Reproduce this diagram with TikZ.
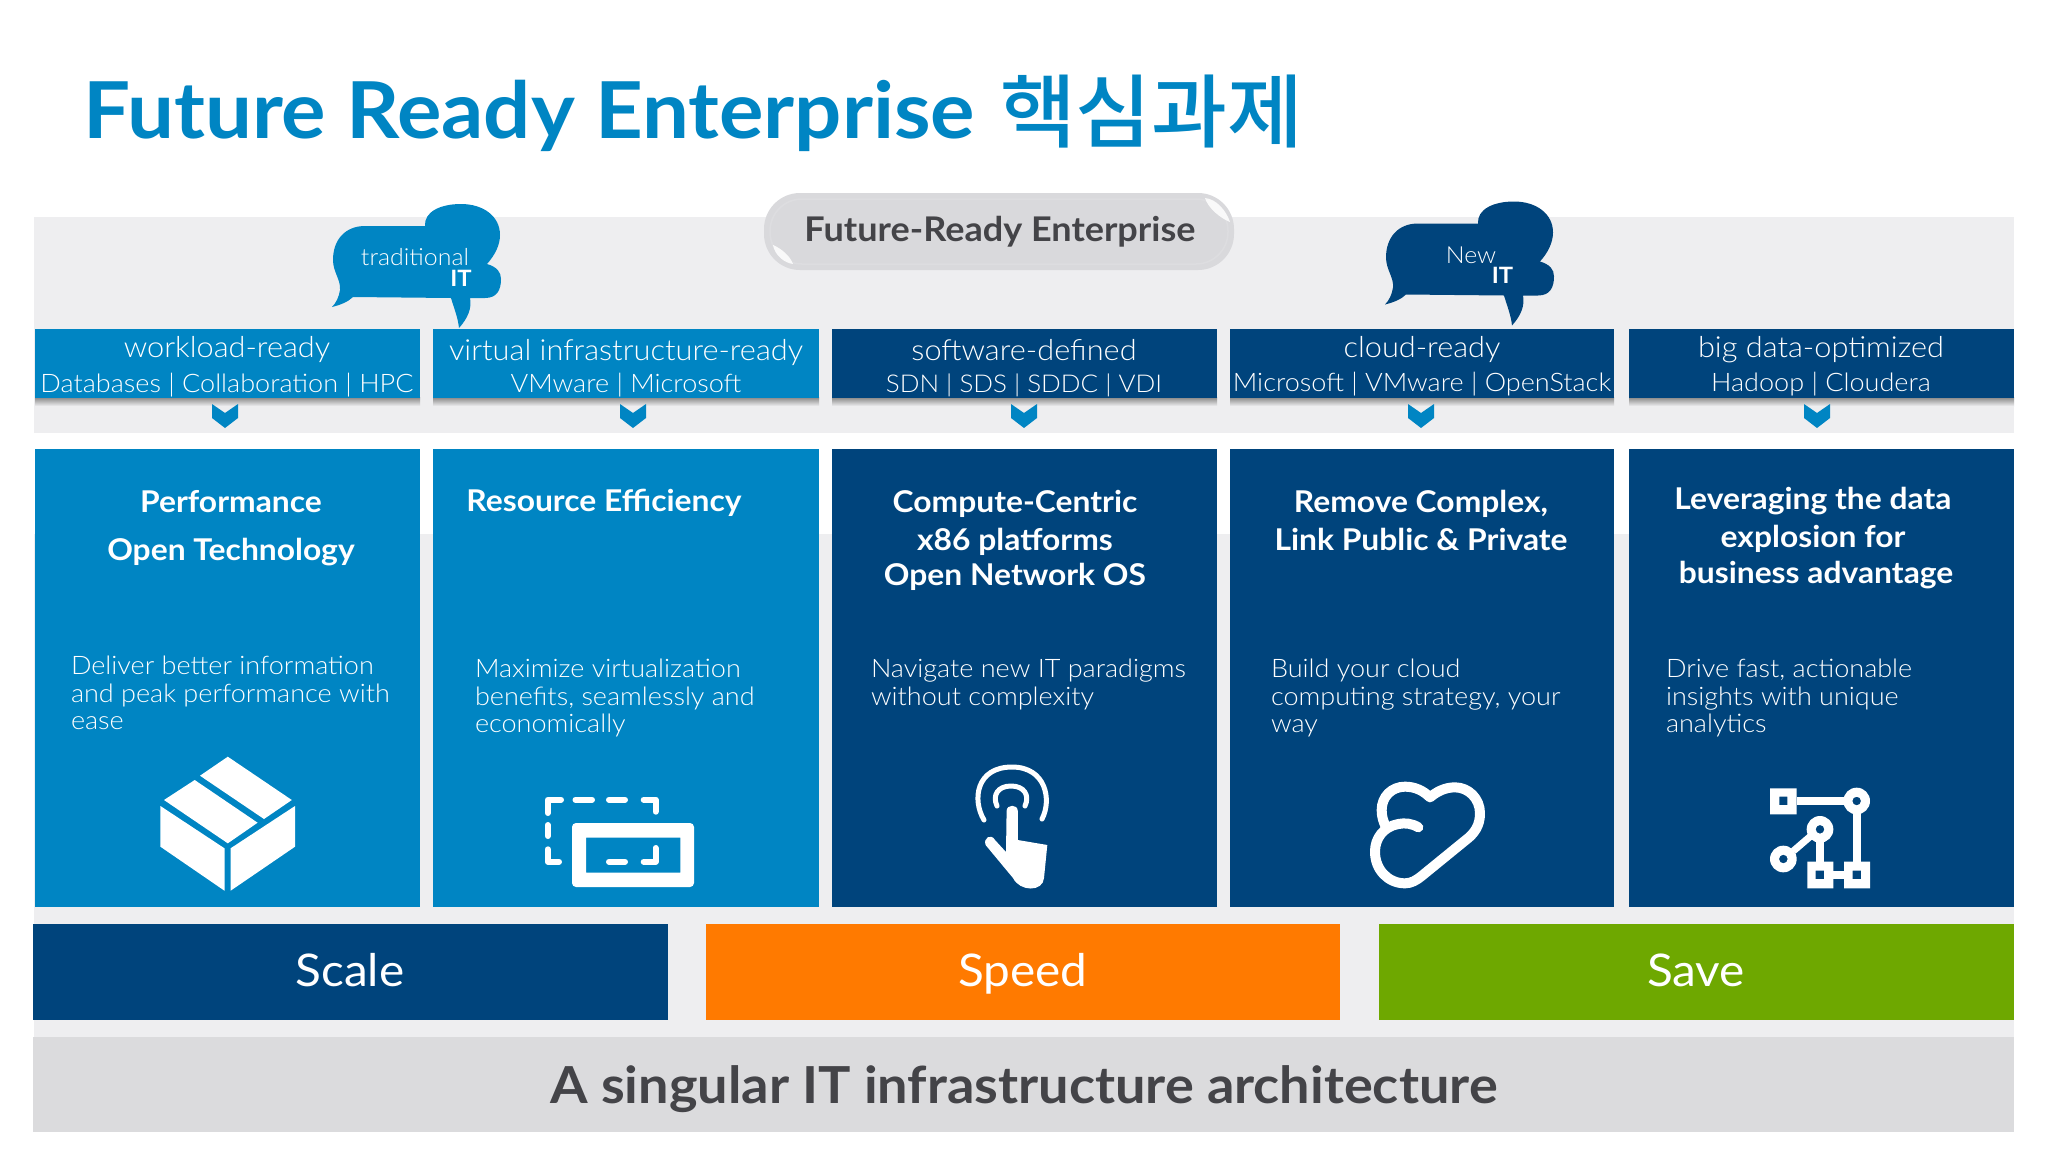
\documentclass[tikz,border=0pt]{standalone}
\usepackage{fontspec}
\setmainfont{Lato}[FakeStretch=1.06]
\newfontfamily\lightf{Lato Light}[FakeStretch=1.06]
\newfontfamily\krf{Noto Sans CJK KR Medium}[FakeStretch=1.03]
\usetikzlibrary{calc}
\definecolor{dellblue}{HTML}{0085C3}
\definecolor{dellnavy}{HTML}{00447C}
\definecolor{bandgray}{HTML}{EEEEF0}
\definecolor{bargray}{HTML}{DBDBDD}
\definecolor{pillgray}{HTML}{D9D9DC}
\definecolor{inkgray}{HTML}{444448}
\definecolor{dellorange}{HTML}{FF7A00}
\definecolor{dellgreen}{HTML}{6EA800}
\newcommand{\fsz}[1]{\fontsize{#1}{#1}\selectfont}
\tikzset{
  txt/.style={inner sep=0pt,outer sep=0pt,anchor=base},
  txtl/.style={inner sep=0pt,outer sep=0pt,anchor=base west},
  headtitle/.style={txt,text=white,font=\lightf\fsz{29}},
  headsub/.style={txt,text=white,font=\lightf\fsz{25.5}},
  boxtitle/.style={txt,text=white,font=\bfseries\fsz{30}},
  boxbody/.style={txtl,text=white,font=\lightf\fsz{25.5}},
  bartext/.style={txt,text=white,font=\fsz{45}},
  bubtext/.style={txt,text=white,font=\lightf\fsz{23.5}},
  bubit/.style={txt,text=white,font=\bfseries\fsz{22.5}},
  icon/.style={fill=white,draw=none},
  iconline/.style={draw=white,line cap=round,line join=round},
}
\newcommand{\bubblepath}{(332,307) .. controls (340,305) and (348,302) .. (353,297) -- (451,298) .. controls (454,308) and (458,318) .. (459,328) .. controls (468,318) and (472,308) .. (470,298) -- (485,298) .. controls (497,298) and (501,290) .. (501,279) .. controls (501,272) and (497,267) .. (487,264) .. controls (495,255) and (500,245) .. (500,235) .. controls (500,216) and (483,204) .. (461,204) .. controls (440,204) and (424,212) .. (425,226) -- (365,226) .. controls (345,226) and (333,240) .. (333,260) .. controls (333,272) and (341,280) .. (340,290) .. controls (339,297) and (336,303) .. (332,307) -- cycle}
\begin{document}
\begin{tikzpicture}[x=1pt,y=-1pt]
\useasboundingbox (0,0) rectangle (2048,1152);
% bands
\fill[white] (0,0) rectangle (2048,1152);
\fill[bandgray] (34,217) rectangle (2014,433);
\fill[bandgray] (34,534) rectangle (2014,1040);
\fill[bargray] (33,1037) rectangle (2014,1132);
% title
\node[txtl,text=dellblue,font=\bfseries\fsz{78.5}] (title) at (83,138) {Future Ready Enterprise};
\node[txtl,text=dellblue,font=\krf\fsz{80}] (titlekr) at (1000,141) {핵심과제};
% pill
\fill[pillgray,rounded corners=36pt] (764,193) rectangle (1234,270);
\draw[white,opacity=.12,line width=1.5pt,rounded corners=32pt] (770,199) rectangle (1228,264);
\fill[white,opacity=.85] (773,245) .. controls (782,249) and (790,256) .. (793,264) .. controls (785,263) and (775,256) .. (773,245) -- cycle;
\fill[white,opacity=.85] (1205,198) .. controls (1216,199) and (1226,210) .. (1230,222) .. controls (1220,218) and (1208,208) .. (1205,198) -- cycle;
\node[txt,text=inkgray,font=\bfseries\fsz{34}] (pilltxt) at (1000,241) {Future-Ready Enterprise};
% header shadows and boxes
\foreach \xa/\xb in {35/420,433/819,832/1217,1230/1614,1629/2014}{
  \shade[top color=black!48,bottom color=bandgray] (\xa,397) rectangle (\xb,406);
}
\foreach \xa/\xb/\c in {35/420/dellblue,433/819/dellblue,832/1217/dellnavy,1230/1614/dellnavy,1629/2014/dellnavy}{
  \fill[\c] (\xa,329) rectangle (\xb,398);
  \fill[\c] (\xa,449) rectangle (\xb,907);
}
% bubbles
\fill[dellblue] \bubblepath;
\begin{scope}[shift={(1053,-2.5)}]
\fill[dellnavy] \bubblepath;
\end{scope}
\node[bubtext] (trad) at (415,265.5) {traditional};
\node[bubit] (trad2) at (461,286) {IT};
\node[bubtext] (new) at (1471,263.5) {New};
\node[bubit] (new2) at (1502.5,283.5) {IT};
% header texts
\node[headtitle] (h1) at (227,357) {workload-ready};
\node[headsub] (s1) at (227,392) {Databases | Collaboration | HPC};
\node[headtitle] (h2) at (626,360) {virtual infrastructure-ready};
\node[headsub] (s2) at (626,392) {VMware | Microsoft};
\node[headtitle] (h3) at (1024,360) {software-defined};
\node[headsub,font=\lightf\fsz{24.5}] (s3) at (1024,392) {SDN | SDS | SDDC | VDI};
\node[headtitle] (h4) at (1422,357) {cloud-ready};
\node[headsub] (s4) at (1422,391) {Microsoft | VMware | OpenStack};
\node[headtitle] (h5) at (1821,357) {big data-optimized};
\node[headsub] (s5) at (1821,391) {Hadoop | Cloudera};
% chevrons
\foreach \cx/\c in {225/dellblue,633/dellblue,1024/dellblue,1421/dellblue,1817/dellblue}{
  \fill[\c] (\cx-13,404) -- (\cx,413) -- (\cx+13,404) -- (\cx+13,418) -- (\cx,428) -- (\cx-13,418) -- cycle;
}
% box titles
\node[boxtitle] (t1a) at (231,512) {Performance};
\node[boxtitle] (t1b) at (231,560) {Open Technology};
\node[boxtitle] (t2a) at (604,511) {Resource Efficiency};
\node[boxtitle] (t3a) at (1015,512) {Compute-Centric};
\node[boxtitle] (t3b) at (1015,550) {x86 platforms};
\node[boxtitle] (t3c) at (1015,585) {Open Network OS};
\node[boxtitle] (t4a) at (1421,512) {Remove Complex,};
\node[boxtitle] (t4b) at (1421,550) {Link Public \& Private};
\node[boxtitle] (t5a) at (1813,509) {Leveraging the data};
\node[boxtitle] (t5b) at (1813,547.5) {explosion for};
\node[boxtitle] (t5c) at (1816,583) {business advantage};
% box bodies
\node[boxbody] (b1a) at (71,674) {Deliver better information};
\node[boxbody] (b1b) at (71,702) {and peak performance with};
\node[boxbody] (b1c) at (71,729.5) {ease};
\node[boxbody] (b2a) at (475,677) {Maximize virtualization};
\node[boxbody] (b2b) at (475,705) {benefits, seamlessly and};
\node[boxbody] (b2c) at (475,732.5) {economically};
\node[boxbody] (b3a) at (871,677) {Navigate new IT paradigms};
\node[boxbody] (b3b) at (871,705) {without complexity};
\node[boxbody] (b4a) at (1271,677) {Build your cloud};
\node[boxbody] (b4b) at (1271,705) {computing strategy, your};
\node[boxbody] (b4c) at (1271,732.5) {way};
\node[boxbody] (b5a) at (1666,677) {Drive fast, actionable};
\node[boxbody] (b5b) at (1666,705) {insights with unique};
\node[boxbody] (b5c) at (1666,732.5) {analytics};
% bottom bars
\fill[dellnavy] (33,924) rectangle (668,1020);
\fill[dellorange] (706,924) rectangle (1340,1020);
\fill[dellgreen] (1379,924) rectangle (2014,1020);
\node[bartext] (scale) at (350,986) {Scale};
\node[bartext] (speed) at (1023,986) {Speed};
\node[bartext] (save) at (1696,986) {Save};
\node[txt,text=inkgray,font=\bfseries\fsz{51}] (arch) at (1024,1103.5) {A singular IT infrastructure architecture};
% box icon
\fill[icon] (227.8,756.7) -- (291.8,800) -- (264,819) -- (200,775.7) -- cycle;
\fill[icon] (194.7,780) -- (257.6,822.7) -- (227.8,843.3) -- (164,800) -- cycle;
\fill[icon] (160.4,806) -- (224.5,848.3) -- (224.5,890.7) -- (160.4,846.7) -- cycle;
\fill[icon] (295,806) -- (230.6,848.3) -- (230.6,890.7) -- (295,846.7) -- cycle;
% virtualization icon
\begin{scope}[iconline,line width=6pt]
\draw (561,799.7) -- (547.8,799.7) -- (547.8,813);
\draw (575.5,799.7) -- (592,799.7);
\draw (609,799.7) -- (625,799.7);
\draw (643.7,799.7) -- (655.5,799.7) -- (655.5,811.7);
\draw (547.8,825) -- (547.8,836);
\draw (547.8,849.3) -- (547.8,861.7) -- (559,861.7);
\draw (609,861.7) -- (625,861.7);
\draw (643.7,861.7) -- (655.5,861.7) -- (655.5,848);
\end{scope}
\fill[icon,even odd rule] [rounded corners=4pt] (572,823) rectangle (694,887) [sharp corners] (586,837.7) rectangle (680.4,872.7);
% touch icon
\begin{scope}[iconline,line width=5pt]
\draw (984,820) .. controls (972,800) and (976,767) .. (1012,767) .. controls (1046,767) and (1052,800) .. (1042,819);
\draw (997,806) .. controls (992,795) and (998,786) .. (1011,786) .. controls (1024,786) and (1030,795) .. (1025,806);
\end{scope}
\fill[icon] (1006.6,811) .. controls (1006.6,804) and (1017.8,804) .. (1017.8,811) -- (1017.8,840) -- (1047.3,845) -- (1044,878) .. controls (1043,892) and (1020,892) .. (1013,878) -- (985.6,845) .. controls (983,838) and (991,833) .. (995,840) -- (1006,852) -- cycle;
% cloud icon
\begin{scope}[shift={(1350,770)},x=0.3333pt,y=-0.3333pt]
\draw[iconline,line width=10pt] (205,172) .. controls (185,160) and (165,158) .. (145,162) .. controls (100,170) and (75,205) .. (75,245) .. controls (75,300) and (115,340) .. (165,340) .. controls (185,340) and (200,330) .. (215,318) -- (345,212) .. controls (375,190) and (390,165) .. (390,130) .. controls (390,85) and (355,52) .. (315,52) .. controls (285,52) and (260,65) .. (240,82) .. controls (220,62) and (195,50) .. (165,50) .. controls (125,50) and (95,80) .. (95,120) .. controls (95,140) and (100,155) .. (108,172);
\end{scope}
% graph icon
\begin{scope}[shift={(1750,775)},x=0.3333pt,y=-0.3333pt]
\draw[white,line width=8pt] (140,78) -- (285,78) (320,110) -- (320,260) (210,195) -- (210,260) (250,300) -- (282,300);
\draw[white,line width=7pt] (130,228) -- (180,185);
\fill[icon,even odd rule] (60,40) rectangle (140,118) (88,65) rectangle (112,90);
\fill[icon,even odd rule] (172,260) rectangle (250,340) (197,287) rectangle (222,312);
\fill[icon,even odd rule] (282,260) rectangle (360,340) (308,287) rectangle (333,312);
\fill[icon,even odd rule] (320,78) circle[radius=40] (320,78) circle[radius=13];
\fill[icon,even odd rule] (210,163) circle[radius=40] (210,163) circle[radius=13];
\fill[icon,even odd rule] (100,252) circle[radius=40] (100,252) circle[radius=13];
\end{scope}
\end{tikzpicture}
\end{document}
